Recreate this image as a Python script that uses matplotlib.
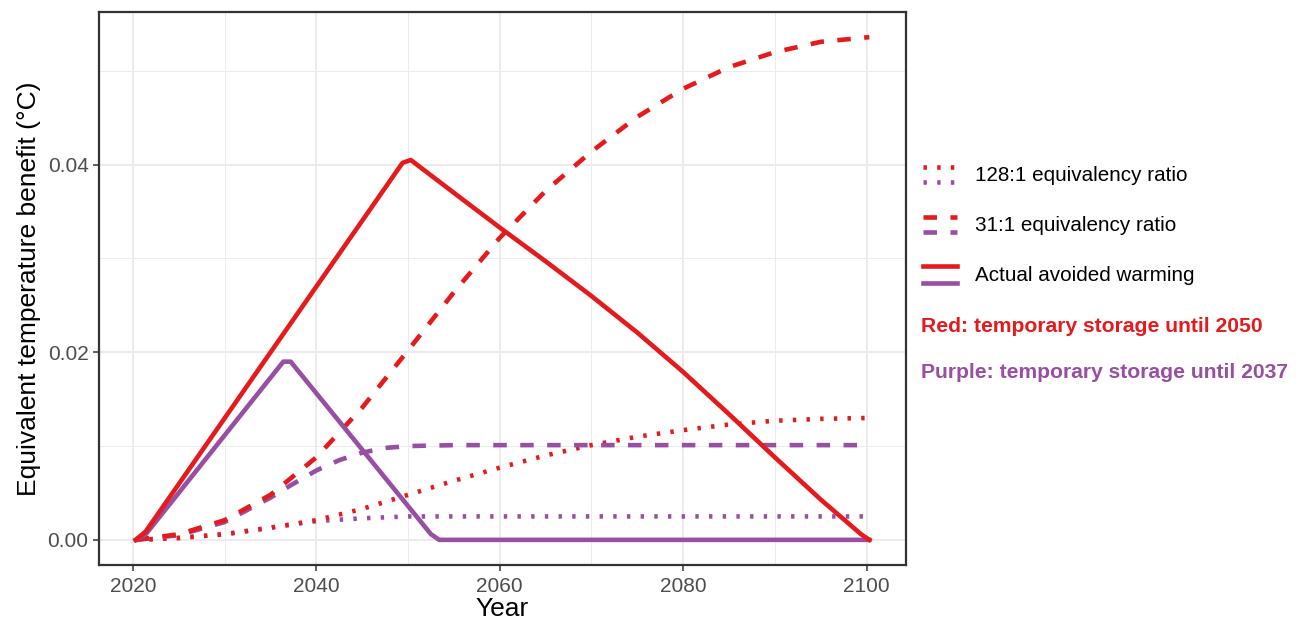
"""Equivalent temperature benefit of temporary carbon storage."""

import matplotlib

matplotlib.use("Agg")
import matplotlib.pyplot as plt
from matplotlib.ticker import MultipleLocator

RED = "#E41A1C"
PURPLE = "#984EA3"

# Actual avoided warming
red_solid_years = [2020.3, 2021.4, 2049.4, 2050.3, 2055, 2060, 2065, 2070, 2075, 2080,
                   2085, 2090, 2095, 2099.4, 2100.3]
red_solid_vals = [0.0, 0.0009, 0.0402, 0.0405, 0.0370, 0.0333, 0.0297, 0.0260, 0.0221,
                  0.0179, 0.0134, 0.0088, 0.0043, 0.0006, 0.0]
purple_solid_years = [2020.3, 2021.4, 2036.4, 2037.2, 2052.5, 2053.4, 2100.3]
purple_solid_vals = [0.0, 0.0006, 0.0190, 0.0190, 0.0006, 0.0, 0.0]

# 31:1 equivalency ratio
red_dashed_years = [2020.3, 2025, 2030, 2035, 2040, 2045, 2050, 2055, 2060, 2065, 2070,
                    2075, 2080, 2085, 2090, 2095, 2100.3]
red_dashed_vals = [0.0, 0.0006, 0.0021, 0.0048, 0.0088, 0.0141, 0.0202, 0.0264, 0.0322,
                   0.0372, 0.0414, 0.0451, 0.0481, 0.0504, 0.0520, 0.0531, 0.0536]
purple_dashed_years = [2020.3, 2025, 2030, 2035, 2037, 2040, 2042.5, 2045, 2047.5, 2050,
                       2055, 2100.3]
purple_dashed_vals = [0.0, 0.0005, 0.0019, 0.0045, 0.0057, 0.0074, 0.0085, 0.0093, 0.0098,
                      0.0100, 0.0101, 0.0101]

# 128:1 equivalency ratio
dotted_years = [2020.3, 2025, 2030, 2035, 2037, 2040, 2045, 2050, 2055, 2060, 2065, 2070,
                2075, 2080, 2085, 2090, 2095, 2100.3]
red_dotted_vals = [0.0, 0.0002, 0.0006, 0.0013, 0.0016, 0.0021, 0.0033, 0.0048, 0.0063,
                   0.0077, 0.0090, 0.0101, 0.0110, 0.0117, 0.0123, 0.0127, 0.0129, 0.0130]
purple_dotted_vals = [0.0, 0.0002, 0.0006, 0.0013, 0.0016, 0.0020, 0.0023, 0.0025, 0.0025,
                      0.0025, 0.0025, 0.0025, 0.0025, 0.0025, 0.0025, 0.0025, 0.0025, 0.0025]

legend_labels = ["128:1 equivalency ratio", "31:1 equivalency ratio", "Actual avoided warming"]
note_labels = ["Red: temporary storage until 2050", "Purple: temporary storage until 2037"]

plt.rcParams["font.family"] = ["Liberation Sans", "DejaVu Sans"]
plt.rcParams["lines.scale_dashes"] = False

LW = 3.3
DASHED = (9.7, 9.7)
DOTTED = (2.45, 7.4)

fig = plt.figure(figsize=(12.98, 6.22), dpi=100)
ax = fig.add_axes([99 / 1298, 1 - 565 / 622, 807 / 1298, 553 / 622])

ax.plot(dotted_years, purple_dotted_vals, color=PURPLE, lw=LW, dashes=DOTTED)
ax.plot(dotted_years, red_dotted_vals, color=RED, lw=LW, dashes=DOTTED)
ax.plot(purple_dashed_years, purple_dashed_vals, color=PURPLE, lw=LW, dashes=DASHED)
ax.plot(red_dashed_years, red_dashed_vals, color=RED, lw=LW, dashes=DASHED)
ax.plot(purple_solid_years, purple_solid_vals, color=PURPLE, lw=LW, solid_joinstyle="round")
ax.plot(red_solid_years, red_solid_vals, color=RED, lw=LW, solid_joinstyle="round")

# ggplot-like 5% expansion
x_lo, x_hi = red_solid_years[0], red_solid_years[-1]
ax.set_xlim(x_lo - 0.05 * (x_hi - x_lo), x_hi + 0.05 * (x_hi - x_lo))
y_hi = max(red_dashed_vals)
ax.set_ylim(-0.05 * y_hi, y_hi * 1.05)
ax.xaxis.set_major_locator(MultipleLocator(20))
ax.xaxis.set_minor_locator(MultipleLocator(10))
ax.yaxis.set_major_locator(MultipleLocator(0.02))
ax.yaxis.set_minor_locator(MultipleLocator(0.01))
ax.yaxis.set_major_formatter(lambda v, _: f"{v:.2f}")
ax.grid(which="major", color="#EBEBEB", lw=1.4)
ax.grid(which="minor", color="#EBEBEB", lw=0.7)
ax.set_axisbelow(True)
ax.tick_params(which="major", length=4.5, width=1.1, color="#333333", labelsize=15,
               labelcolor="#4D4D4D", pad=3)
ax.tick_params(axis="x", which="major", pad=4.5)
ax.tick_params(which="minor", length=0)
for spine in ax.spines.values():
    spine.set_color("#333333")
    spine.set_linewidth(1.6)
ax.set_xlabel("Year", fontsize=19, labelpad=0)
ax.set_ylabel("Equivalent temperature benefit (°C)", fontsize=19, labelpad=5)

# manual legend in pixel space, two stacked keys per entry
leg = fig.add_axes([0, 0, 1, 1], facecolor="none")
leg.set_xlim(0, 1298)
leg.set_ylim(622, 0)
leg.axis("off")
key_x = (923, 957)
styles = [dict(dashes=DOTTED), dict(dashes=DASHED), dict()]
key_rows = [(167, 182), (217, 232), (266, 283)]
for label, style, (y_red, y_purple) in zip(legend_labels, styles, key_rows):
    leg.plot(key_x, (y_red, y_red), color=RED, lw=LW, **style)
    leg.plot(key_x, (y_purple, y_purple), color=PURPLE, lw=LW, **style)
    leg.text(975, (y_red + y_purple) / 2 + 1, label, fontsize=14.9, va="center", ha="left")
leg.text(921, 327, note_labels[0], color=RED, fontsize=15.2, fontweight="bold", va="center")
leg.text(921, 372, note_labels[1], color=PURPLE, fontsize=15.2, fontweight="bold", va="center")

fig.savefig("out.png", dpi=100)
plt.close(fig)
